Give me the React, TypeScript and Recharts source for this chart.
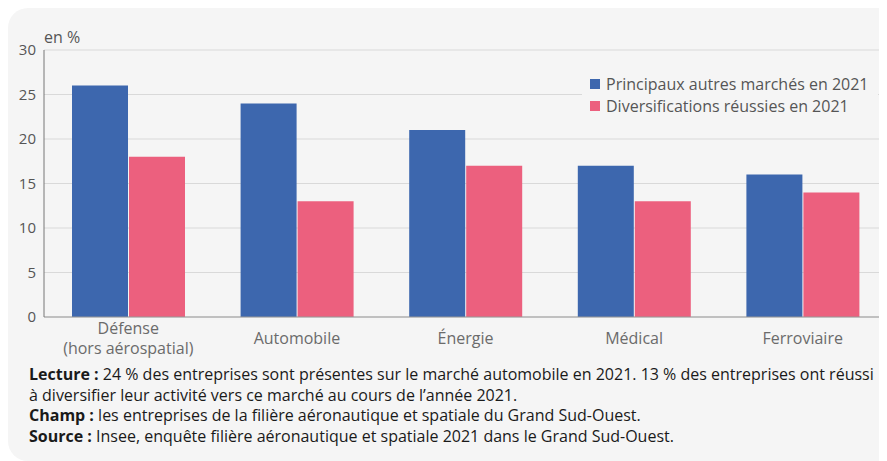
import { BarChart, Bar, XAxis, YAxis, CartesianGrid } from 'recharts'

const categories = ['Défense\n(hors aérospatial)', 'Automobile', 'Énergie', 'Médical', 'Ferroviaire']
const principaux = [26, 24, 21, 17, 16]
const diversifications = [18, 13, 17, 13, 14]
const yTicks = [0, 5, 10, 15, 20, 25, 30]

const seriesNames = ['Principaux autres marchés en 2021', 'Diversifications réussies en 2021']
const BLUE = '#3d67ae'
const PINK = '#ec607e'
const FONT = '"Open Sans", sans-serif'

const data = categories.map((name, i) => ({
  name,
  principaux: principaux[i],
  diversifications: diversifications[i],
}))

// eslint-disable-next-line @typescript-eslint/no-explicit-any
function CategoryTick({ x, y, payload }: any) {
  const lines = String(payload.value).split('\n')
  const start = 13 - ((lines.length - 1) * 20) / 2
  return (
    <text x={x} y={y} textAnchor="middle" fill="#6b6b6b" fontSize={16} fontFamily={FONT}>
      {lines.map((l, i) => (
        <tspan key={i} x={x} y={y + start + i * 20} dy="0.35em">{l}</tspan>
      ))}
    </text>
  )
}

function LegendBox() {
  const colors = [BLUE, PINK]
  return (
    <div style={{
      position: 'absolute', top: 62, left: 574, background: '#f5f5f5', padding: '3px 10px 3px 8px',
      fontSize: 16, color: '#555',
    }}>
      {seriesNames.map((s, i) => (
        <div key={s} style={{ display: 'flex', alignItems: 'center', height: 22 }}>
          <span style={{ width: 10, height: 10, background: colors[i], marginRight: 6, display: 'inline-block' }} />
          {s}
        </div>
      ))}
    </div>
  )
}

export default function App() {
  return (
    <div style={{ width: 879, height: 453, background: '#f5f5f5', borderRadius: '20px 0 0 20px', position: 'relative', fontFamily: FONT }}>
      <BarChart
        width={879}
        height={360}
        data={data}
        margin={{ top: 42, right: 0, left: 0, bottom: 0 }}
        barSize={56}
        barGap={1}
      >
        <CartesianGrid vertical={false} stroke="#d9d9d9" />
        <XAxis
          dataKey="name"
          tick={<CategoryTick />}
          tickLine={false}
          axisLine={{ stroke: '#999' }}
          height={51}
          interval={0}
        />
        <YAxis
          domain={[0, 30]}
          ticks={yTicks}
          width={36}
          tickLine={false}
          axisLine={{ stroke: '#777' }}
          tick={{ fill: '#555', fontSize: 15, fontFamily: FONT }}
          tickMargin={2}
        />
        <Bar dataKey="principaux" name={seriesNames[0]} fill={BLUE} isAnimationActive={false} />
        <Bar dataKey="diversifications" name={seriesNames[1]} fill={PINK} isAnimationActive={false} />
      </BarChart>
      <div style={{ position: 'absolute', left: 36, top: 18, fontSize: 16, color: '#555' }}>en %</div>
      <LegendBox />
      <div style={{ paddingLeft: 21, marginTop: -4, fontSize: 16, lineHeight: '20.5px', color: '#1a1a1a' }}>
        <div><b>Lecture :</b> 24 % des entreprises sont présentes sur le marché automobile en 2021. 13 % des entreprises ont réussi<br />à diversifier leur activité vers ce marché au cours de l’année 2021.</div>
        <div><b>Champ :</b> les entreprises de la filière aéronautique et spatiale du Grand Sud-Ouest.</div>
        <div><b>Source :</b> Insee, enquête filière aéronautique et spatiale 2021 dans le Grand Sud-Ouest.</div>
      </div>
    </div>
  )
}
